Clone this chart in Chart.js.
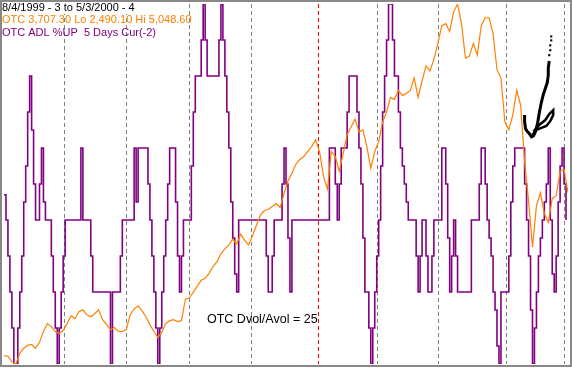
<!DOCTYPE html>
<html>
<head>
<meta charset="utf-8">
<script src="https://cdn.jsdelivr.net/npm/chart.js@4"></script>
<style>
  html, body { margin: 0; padding: 0; background: #fff; }
  canvas { display: block; }
</style>
</head>
<body>
<canvas id="otcChart" width="572" height="368"></canvas>
<script>
// OTC ADL %UP, 5 day, one value per half-session slot (0-100)
const adlPctUp = [
    47, 40, 30, 20, 10, 0, 0, 10, 20, 30,
    45, 55, 70, 80, 65, 50, 40, 40, 50, 60,
    45, 40, 40, 40, 30, 20, 10, 0, 10, 20,
    30, 40, 40, 40, 40, 40, 40, 40, 40, 60,
    40, 40, 40, 40, 30, 20, 20, 20, 20, 20,
    20, 20, 20, 20, 0, 20, 20, 20, 20, 30,
    40, 40, 40, 40, 40, 40, 60, 45, 60, 60,
    60, 60, 60, 50, 40, 30, 20, 10, 0, 10,
    20, 30, 40, 50, 60, 60, 60, 45, 30, 20,
    30, 40, 40, 40, 40, 55, 70, 80, 80, 80,
    90, 100, 90, 80, 80, 80, 80, 80, 80, 90,
    100, 90, 80, 70, 60, 45, 35, 25, 20, 40,
    40, 40, 40, 40, 40, 40, 40, 40, 40, 40,
    40, 40, 40, 30, 20, 20, 30, 40, 40, 40,
    40, 50, 60, 50, 35, 20, 40, 40, 40, 40,
    40, 40, 40, 40, 40, 40, 40, 40, 40, 40,
    40, 40, 40, 40, 40, 60, 60, 60, 50, 40,
    50, 60, 60, 60, 70, 80, 80, 80, 80, 70,
    60, 50, 35, 20, 20, 10, 0, 10, 20, 30,
    40, 55, 70, 80, 90, 100, 100, 90, 80, 80,
    70, 60, 55, 50, 45, 40, 40, 40, 40, 30,
    20, 30, 40, 40, 30, 20, 20, 30, 40, 40,
    40, 40, 60, 60, 50, 35, 20, 30, 40, 30,
    20, 20, 20, 20, 20, 20, 20, 40, 40, 40,
    40, 50, 60, 60, 50, 40, 35, 30, 20, 15,
    5, 0, 20, 20, 20, 20, 30, 45, 55, 60,
    60, 60, 60, 60, 50, 40, 30, 15, 0, 10,
    20, 30, 35, 40, 45, 50, 60, 40, 25, 20,
    30, 45, 55, 60, 50, 40
];

// OTC composite close, one value every second slot
const otcClose = [
    2550, 2545, 2505, 2490.1, 2567, 2602, 2623, 2630, 2602, 2644,
    2721, 2777, 2756, 2721, 2707, 2728, 2777, 2833, 2812, 2861,
    2875, 2840, 2826, 2847, 2875, 2805, 2770, 2735, 2749, 2721,
    2721, 2735, 2840, 2882, 2903, 2868, 2826, 2770, 2721, 2679,
    2714, 2777, 2798, 2805, 2791, 2798, 2952, 2959, 3001, 3043,
    3085, 3099, 3134, 3183, 3218, 3273, 3308, 3336, 3378, 3343,
    3413, 3371, 3336, 3399, 3476, 3546, 3581, 3588, 3609, 3630,
    3602, 3700, 3790, 3846, 3909, 3944, 3965, 4000, 4035, 4084,
    4000, 3825, 3734, 4000, 3965, 3860, 3986, 4119, 4175, 4231,
    4140, 4154, 4035, 3881, 4000, 4070, 4210, 4280, 4385, 4371,
    4434, 4399, 4413, 4434, 4524, 4385, 4503, 4608, 4573, 4657,
    4769, 4895, 4909, 4853, 4993, 5048.6, 4909, 4664, 4678, 4769,
    4685, 4895, 4951, 4951, 4839, 4580, 4524, 4210, 4154, 4259,
    4434, 4329, 3930, 3651, 3322, 3616, 3707, 3560, 3497, 3665,
    3686, 3860, 3874, 3707.3
];

// Dvol/Avol trail (slot, price scale)
const trailX = [264, 264, 264.5, 265.5, 266.5, 267.5, 268.5, 269.5, 270.5, 271.5, 272.5, 273.5, 274.5, 275.5, 276, 276, 276.5];
const trailY = [4259, 4210, 4161, 4140, 4126, 4105, 4112, 4140, 4196, 4280, 4350, 4406, 4448, 4490, 4545, 4594, 4643];
const loopX = [268, 270, 272.5, 275, 277, 278.5, 278.5, 276.5, 274.5, 272, 270, 268.5];
const loopY = [4119, 4154, 4168, 4182, 4217, 4259, 4294, 4266, 4224, 4196, 4168, 4140];
const tipX = [276.5, 277, 277, 277.5, 277.5];
const tipY = [4685, 4720, 4755, 4790, 4818];

// Month boundaries (slot positions)
const monthNames = ['Sep', 'Oct', 'Nov', 'Dec', 'Jan', 'Feb', 'Mar', 'Apr', 'May'];
const monthStarts = [30.6, 61.7, 93.8, 125.4, 159.1, 189.2, 220.3, 254.4, 284];

const PURPLE = '#800080';
const ORANGE = '#ff8000';
const TITLE = '8/4/1999 - 3 to 5/3/2000 - 4';

// dashed month separators, behind the data
const monthLines = {
    id: 'monthLines',
    beforeDatasetsDraw(chart) {
        const { ctx, chartArea, scales } = chart;
        ctx.save();
        ctx.lineWidth = 1;
        ctx.setLineDash([4, 3]);
        monthStarts.forEach((m, i) => {
            const px = Math.round(scales.x.getPixelForValue(m)) + 0.5;
            ctx.strokeStyle = monthNames[i] === 'Jan' ? '#ff0000' : '#808080';
            ctx.beginPath();
            ctx.moveTo(px, chartArea.top);
            ctx.lineTo(px, chartArea.bottom);
            ctx.stroke();
        });
        ctx.restore();
    }
};

// frame and captions
const captions = {
    id: 'captions',
    afterDraw(chart) {
        const { ctx, width } = chart;
        ctx.save();
        ctx.strokeStyle = '#888888';
        ctx.lineWidth = 2;
        ctx.strokeRect(1, 1, width - 2, 365);

        ctx.font = '11px "Liberation Sans"';
        ctx.textBaseline = 'middle';
        // the title sits on an opaque box
        ctx.fillStyle = '#fff';
        ctx.fillRect(2, 2, ctx.measureText(TITLE).width + 3, 12);
        ctx.fillStyle = '#000';
        ctx.fillText(TITLE, 2, 8);
        ctx.fillStyle = ORANGE;
        ctx.fillText('OTC 3,707.30 Lo 2,490.10 Hi 5,048.60', 2, 20);
        ctx.fillStyle = PURPLE;
        ctx.fillText('OTC ADL %UP  5 Days Cur(-2)', 2, 32.5);
        ctx.font = '12.5px "Liberation Sans"';
        ctx.fillStyle = '#000';
        ctx.fillText('OTC Dvol/Avol = 25', 207, 320);
        ctx.restore();
    }
};

const pairs = (xs, ys) => xs.map((x, i) => ({ x: x, y: ys[i] }));

new Chart(document.getElementById('otcChart'), {
    type: 'line',
    data: {
        datasets: [
            {
                data: pairs(tipX, tipY),
                yAxisID: 'y2',
                showLine: false,
                pointRadius: 1.5,
                pointStyle: 'rect',
                pointBorderWidth: 0,
                pointBackgroundColor: '#000'
            },
            {
                data: pairs(trailX, trailY),
                yAxisID: 'y2',
                borderColor: '#000',
                borderWidth: 3,
                pointRadius: 0
            },
            {
                data: pairs(loopX, loopY),
                yAxisID: 'y2',
                borderColor: '#000',
                borderWidth: 2.5,
                pointRadius: 0
            },
            {
                data: otcClose.map((v, i) => ({ x: i * 2, y: v })),
                yAxisID: 'y2',
                borderColor: ORANGE,
                borderWidth: 1.2,
                pointRadius: 0
            },
            {
                data: adlPctUp.map((v, i) => ({ x: i, y: v })),
                yAxisID: 'y',
                stepped: true,
                borderColor: PURPLE,
                borderWidth: 1.6,
                pointRadius: 0
            }
        ]
    },
    options: {
        responsive: false,
        animation: false,
        events: [],
        layout: { padding: { top: 1, left: 1, right: 1, bottom: 2 } },
        scales: {
            x: { type: 'linear', min: 0, max: 286, display: false },
            y: { min: 0, max: 100, display: false },
            y2: { min: 2490.1, max: 5048.6, display: false }
        },
        plugins: {
            legend: { display: false },
            tooltip: { enabled: false }
        }
    },
    plugins: [monthLines, captions]
});
</script>
</body>
</html>
